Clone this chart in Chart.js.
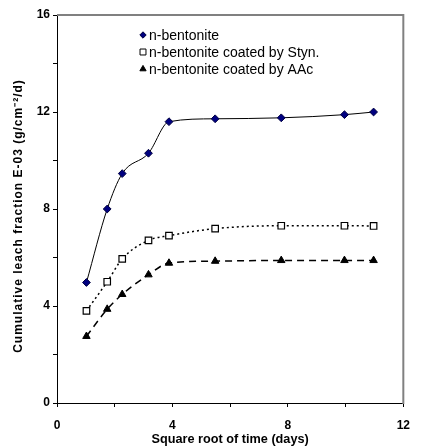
<!DOCTYPE html>
<html>
<head>
<meta charset="utf-8">
<script src="https://cdn.jsdelivr.net/npm/chart.js@4/dist/chart.umd.min.js"></script>
<style>
    html, body { margin:0; padding:0; background:#fff; }
    #wrap { width:421px; height:448px; }
</style>
</head>
<body>
<div id="wrap"><canvas id="leach"></canvas></div>
<script>

// square root of time (days) for each sampling point
const rootTime = [1.02, 1.74, 2.26, 3.17, 3.88, 5.48, 7.77, 9.96, 10.97];

// cumulative leach fraction E-03
const bentonite  = [4.97, 8.0, 9.46, 10.3, 11.6, 11.72, 11.76, 11.89, 12.0];
const coatedStyn = [3.8, 5.0, 5.94, 6.71, 6.9, 7.19, 7.31, 7.31, 7.3];
const coatedAAc  = [2.75, 3.87, 4.48, 5.29, 5.77, 5.85, 5.88, 5.88, 5.88];

const seriesNames = [
    "n-bentonite",
    "n-bentonite coated by Styn.",
    "n-bentonite coated by AAc"
];

const xTicks = [0, 4, 8, 12];
const yTicks = [0, 4, 8, 12, 16];

const yTitle = "Cumulative leach fraction E-03 (g/cm\u207B\u00B2/d)";

const FONT = "'Liberation Sans', Arial, sans-serif";


function points(ys) {
    return rootTime.map((x, i) => ({ x: x, y: ys[i] }));
}


// legend drawn inside the plot, near the top
const innerLegend = {
    id: "innerLegend",
    afterDraw(chart) {
        const { ctx, chartArea } = chart;
        const x0 = chartArea.left + 86;
        const y0 = chartArea.top + 20;
        const rowH = 17;

        ctx.save();
        ctx.font = "14px " + FONT;
        ctx.textBaseline = "middle";

        chart.data.datasets.forEach((ds, i) => {
            const y = y0 + i * rowH;
            ctx.strokeStyle = ds.pointBorderColor;
            ctx.fillStyle = ds.pointBackgroundColor;
            ctx.lineWidth = 1;
            Chart.helpers.drawPoint(ctx, {
                pointStyle: ds.pointStyle,
                radius: ds.legendRadius,
                borderWidth: 1
            }, x0, y);
            ctx.fillStyle = "#000";
            ctx.fillText(ds.label, x0 + 6, y + 1);
        });

        ctx.restore();
    }
};


// grey top and right edges of the plot box
const plotFrame = {
    id: "plotFrame",
    afterDraw(chart) {
        const { ctx, chartArea } = chart;
        ctx.save();
        ctx.strokeStyle = "#808080";
        ctx.lineWidth = 2;
        ctx.beginPath();
        ctx.moveTo(chartArea.left, chartArea.top);
        ctx.lineTo(chartArea.right, chartArea.top);
        ctx.lineTo(chartArea.right, chartArea.bottom + 1);
        ctx.stroke();
        ctx.restore();
    }
};


// y axis title, letter-spaced, drawn by hand
const spacedYTitle = {
    id: "spacedYTitle",
    afterDraw(chart) {
        const { ctx, chartArea } = chart;
        ctx.save();
        ctx.translate(19, (chartArea.top + chartArea.bottom) / 2 + 7);
        ctx.rotate(-Math.PI / 2);
        ctx.font = "bold 12px " + FONT;
        ctx.letterSpacing = "1px";
        ctx.fillStyle = "#000";
        ctx.textAlign = "center";
        ctx.textBaseline = "middle";
        ctx.fillText(yTitle, 0, 0);
        ctx.restore();
    }
};


new Chart(document.getElementById("leach"), {
    type: "line",
    data: {
        datasets: [
            {
                label: seriesNames[0],
                data: points(bentonite),
                borderColor: "#000",
                borderWidth: 1,
                pointStyle: "rectRot",
                pointRadius: 3.9,
                legendRadius: 3.2,
                pointBackgroundColor: "#000080",
                pointBorderColor: "#000040",
                pointBorderWidth: 1,
                cubicInterpolationMode: "monotone"
            },
            {
                label: seriesNames[1],
                data: points(coatedStyn),
                borderColor: "#000",
                borderWidth: 1.5,
                borderDash: [2, 3],
                pointStyle: "rect",
                pointRadius: 4.6,
                legendRadius: 4.2,
                pointBackgroundColor: "#fff",
                pointBorderColor: "#000",
                pointBorderWidth: 1.2,
                cubicInterpolationMode: "monotone"
            },
            {
                label: seriesNames[2],
                data: points(coatedAAc),
                borderColor: "#000",
                borderWidth: 1.5,
                borderDash: [7, 5],
                pointStyle: "triangle",
                pointRadius: 4.3,
                legendRadius: 3.6,
                pointBackgroundColor: "#000",
                pointBorderColor: "#000",
                pointBorderWidth: 1,
                cubicInterpolationMode: "monotone"
            }
        ]
    },
    options: {
        responsive: true,
        maintainAspectRatio: false,
        animation: false,
        events: [],
        layout: { padding: { top: 15, right: 8, left: 0, bottom: 0 } },
        plugins: {
            legend: { display: false },
            tooltip: { enabled: false }
        },
        scales: {
            x: {
                type: "linear",
                min: 0,
                max: 12,
                afterFit(scale) { scale.height = 45; },
                afterBuildTicks(scale) {
                    scale.ticks = [0, 2, 4, 6, 8, 10, 12].map(v => ({ value: v }));
                },
                ticks: {
                    padding: 11,
                    color: "#000",
                    font: { family: FONT, size: 12, weight: "bold" },
                    callback: v => xTicks.includes(v) ? String(v) : ""
                },
                grid: {
                    drawOnChartArea: false,
                    drawTicks: true,
                    tickLength: 4,
                    color: "#000"
                },
                border: { color: "#000", width: 1 },
                title: {
                    display: true,
                    text: "Square root of time (days)",
                    color: "#000",
                    font: { family: FONT, size: 12.7, weight: "bold" },
                    padding: { top: 0, bottom: 1 }
                }
            },
            y: {
                type: "linear",
                min: 0,
                max: 16,
                afterFit(scale) { scale.width = 57; },
                afterBuildTicks(scale) {
                    scale.ticks = [0, 2, 4, 6, 8, 10, 12, 14, 16].map(v => ({ value: v }));
                },
                ticks: {
                    padding: 3,
                    color: "#000",
                    font: { family: FONT, size: 12, weight: "bold" },
                    callback: v => yTicks.includes(v) ? String(v) : ""
                },
                grid: {
                    drawOnChartArea: false,
                    drawTicks: true,
                    tickLength: 4,
                    color: "#000"
                },
                border: { color: "#000", width: 1 },
                title: { display: false }
            }
        }
    },
    plugins: [plotFrame, innerLegend, spacedYTitle]
});

</script>
</body>
</html>
